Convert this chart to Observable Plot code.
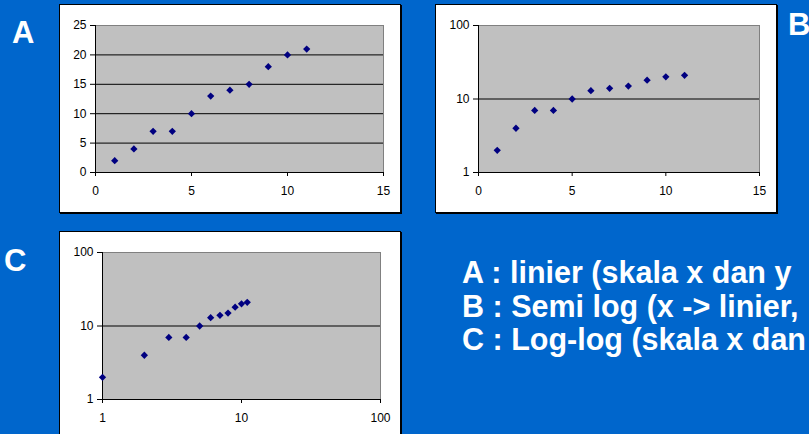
<!DOCTYPE html>
<html>
<head>
<meta charset="utf-8">
<script src="https://cdn.jsdelivr.net/npm/d3@7"></script>
<script src="https://cdn.jsdelivr.net/npm/@observablehq/plot@0.6"></script>
<style>
  html, body { margin: 0; padding: 0; }
  body { width: 809px; height: 434px; overflow: hidden; background: #0066cc; position: relative; }
  .panel { position: absolute; }
  .panel svg { display: block; outline: 1px solid #000; outline-offset: -1px; box-shadow: 1px 1px 0 #000; }
  #labels { position: absolute; left: 0; top: 0; }
</style>
</head>
<body>
<script>
// Data
const xValues = [1, 2, 3, 4, 5, 6, 7, 8, 9, 10, 11];
const yValues = [2, 4, 7, 7, 10, 13, 14, 15, 18, 20, 21];
const linTicksX = [0, 5, 10, 15];
const linTicksY = [0, 5, 10, 15, 20, 25];
const logTicks = [1, 10, 100];
const panelLetters = ["A", "B", "C"];
const descLines = [
  "A : linier (skala x dan y",
  "B : Semi log (x -> linier,",
  "C : Log-log (skala x dan"
];

const points = xValues.map((x, i) => ({x, y: yValues[i]}));

function panel(cfg) {
  const xMin = cfg.xTicks[0], yMin = cfg.yTicks[0];
  const grid = cfg.yTicks.slice(1, -1);
  const chart = Plot.plot({
    width: cfg.w, height: cfg.h,
    marginLeft: cfg.ml, marginTop: cfg.mt, marginRight: cfg.mr, marginBottom: cfg.mb,
    style: {background: "white", fontFamily: "'Liberation Sans', Arial, sans-serif", fontSize: "12px", color: "#000", overflow: "visible"},
    x: {type: cfg.xType, domain: [cfg.xTicks[0], cfg.xTicks[cfg.xTicks.length - 1]], label: null},
    y: {type: cfg.yType, domain: [cfg.yTicks[0], cfg.yTicks[cfg.yTicks.length - 1]], label: null},
    marks: [
      Plot.frame({fill: "#c0c0c0", stroke: "#808080"}),
      Plot.ruleY(grid, {stroke: "#000", strokeWidth: 1}),
      Plot.ruleX([xMin], {stroke: "#000"}),
      Plot.ruleY([yMin], {stroke: "#000"}),
      Plot.axisX(cfg.xTicks, {tickSize: 4, tickPadding: 10, fontSize: 12, tickFormat: d => String(d), label: null}),
      Plot.axisY(cfg.yTicks, {tickSize: 5, tickPadding: 4, fontSize: 12, tickFormat: d => String(d), label: null}),
      Plot.dot(points, {x: "x", y: "y", symbol: "square", r: 2.9, rotate: 45, fill: "#000080", stroke: "none"})
    ]
  });
  const div = document.createElement("div");
  div.className = "panel";
  div.style.left = cfg.left + "px";
  div.style.top = cfg.top + "px";
  div.appendChild(chart);
  document.body.appendChild(div);
}

panel({left: 59, top: 4, w: 342, h: 209, ml: 36, mt: 21, mr: 18, mb: 41,
  xType: "linear", xTicks: linTicksX, yType: "linear", yTicks: linTicksY});
panel({left: 435, top: 4, w: 342, h: 209, ml: 43, mt: 21, mr: 18, mb: 41,
  xType: "linear", xTicks: linTicksX, yType: "log", yTicks: logTicks});
panel({left: 59, top: 231, w: 342, h: 215, ml: 43, mt: 21, mr: 21, mb: 47,
  xType: "log", xTicks: logTicks, yType: "log", yTicks: logTicks});

// Text overlay
const ns = "http://www.w3.org/2000/svg";
const svg = document.createElementNS(ns, "svg");
svg.setAttribute("id", "labels");
svg.setAttribute("width", 809);
svg.setAttribute("height", 434);
svg.style.fontFamily = "'Liberation Sans', Arial, sans-serif";
svg.style.fontWeight = "bold";
svg.style.fill = "#fff";
const letterPos = [[12, 43], [788, 35], [4, 271]];
panelLetters.forEach((t, i) => {
  const el = document.createElementNS(ns, "text");
  el.setAttribute("x", letterPos[i][0]);
  el.setAttribute("y", letterPos[i][1]);
  el.setAttribute("font-size", 31);
  el.textContent = t;
  svg.appendChild(el);
});
descLines.forEach((t, i) => {
  const el = document.createElementNS(ns, "text");
  el.setAttribute("x", 462);
  el.setAttribute("y", 283 + i * 33.5);
  el.setAttribute("font-size", 30.5);
  el.textContent = t;
  svg.appendChild(el);
});
document.body.appendChild(svg);
</script>
</body>
</html>
